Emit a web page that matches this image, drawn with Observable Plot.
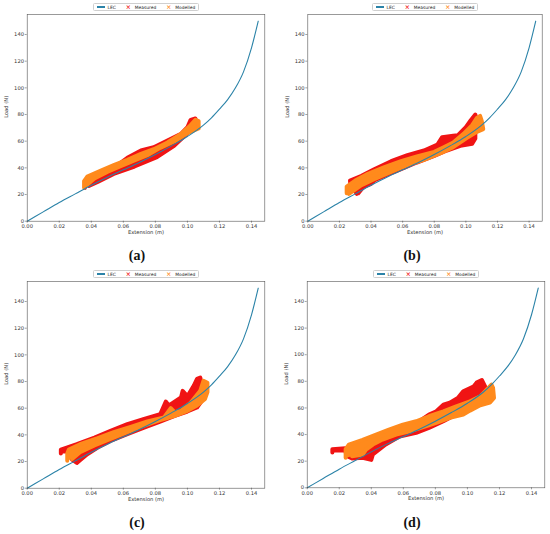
<!DOCTYPE html>
<html>
<head>
<meta charset="utf-8">
<script src="https://cdn.jsdelivr.net/npm/d3@7"></script>
<script src="https://cdn.jsdelivr.net/npm/@observablehq/plot@0.6"></script>
<style>
  html, body { margin: 0; padding: 0; background: #fff; }
  #fig { position: relative; width: 550px; height: 534px; overflow: hidden; font-family: "DejaVu Sans", sans-serif; }
  .panel { position: absolute; width: 275px; height: 267px; }
  .panel svg { position: absolute; left: 0; top: 0; }
  .legend { position: absolute; top: 3px; height: 8px; width: 106px; border: 0.6px solid #cfcfcf; border-radius: 1.5px;
            display: flex; align-items: center; font-size: 4.4px; color: #222; box-sizing: border-box; padding-left: 3px; background: #fff; }
  .legend .sw { display: inline-block; width: 8px; height: 1.1px; background: #2b83a8; margin-right: 3px; }
  .legend .mk { font-weight: bold; font-size: 6px; margin-right: 4px; line-height: 6px; }
  .legend .lab { margin-right: 10px; }
  .cap { position: absolute; top: 248px; width: 40px; text-align: center; font-family: "Liberation Serif", serif; font-weight: bold; font-size: 14px; color: #111; }
</style>
</head>
<body>
<div id="fig"></div>
<script>
// ---------- data ----------
const xTicks = [0, 0.02, 0.04, 0.06, 0.08, 0.10, 0.12, 0.14];
const yTicks = [0, 20, 40, 60, 80, 100, 120, 140];
const panelLabels = ["(a)", "(b)", "(c)", "(d)"];
const seriesNames = ["LEC", "Measured", "Modelled"];

// Load-extension curve (LEC)
const lecX = [0, 0.01, 0.02, 0.03, 0.04, 0.05, 0.06, 0.07, 0.08, 0.09, 0.10, 0.11, 0.115, 0.12, 0.125, 0.13, 0.135, 0.14, 0.1442];
const lecY = [0, 7, 14, 20.5, 27, 33, 38.5, 44, 50, 56.5, 63.5, 72, 77.5, 84, 91, 100, 112, 130, 150];

// Measured / modelled hysteresis loops (extension m, load N), traced outline
const measuredA = [[0.036,25],[0.037,30],[0.045,34],[0.054,40],[0.0625,47.5],[0.071,53],[0.079,55.5],[0.0875,60.5],[0.096,65.5],[0.1,70.5],[0.102,76],[0.105,77],
  [0.106,72.5],[0.1,66],[0.0917,56.5],[0.081,48],[0.067,41],[0.054,35.5],[0.044,29.5],[0.0385,26.5]];
const modelledA = [[0.0355,25],[0.0355,30],[0.0375,33.5],[0.046,38],[0.054,42],[0.0625,46],[0.071,50.5],[0.079,54],[0.0875,59],[0.096,65.5],[0.102,72],[0.105,76],[0.107,75],
  [0.107,69.5],[0.1,66],[0.092,60],[0.083,55],[0.075,49.5],[0.067,45.5],[0.058,41],[0.05,37],[0.042,32],[0.0365,26.5]];

const measuredB = [[0.031,20.5],[0.027,27],[0.0267,30.5],[0.034,34],[0.042,39],[0.0527,45],[0.063,49.5],[0.0735,53],[0.082,57.5],[0.085,63],[0.092,64],[0.095,64.5],[0.1,70.5],[0.103,75.5],[0.106,80],[0.107,76],
  [0.106,70],[0.106,62],[0.104,58],[0.0965,56.5],[0.088,53],[0.08,49],[0.069,44],[0.059,39],[0.0485,34],[0.042,30.5],[0.04,28],[0.035,25.5],[0.032,21]];
const modelledB = [[0.0246,21],[0.0246,26],[0.03,30.5],[0.038,35.5],[0.0485,40.5],[0.059,45],[0.069,48.5],[0.08,52],[0.086,55.5],[0.092,59],[0.0985,65.5],[0.104,72],[0.107,77.5],[0.109,79],[0.11,75.5],[0.111,69],
  [0.107,67],[0.1,62],[0.092,55.5],[0.084,51],[0.0735,46],[0.063,42],[0.0527,37],[0.042,31.5],[0.034,27],[0.029,23],[0.026,20.5]];

const measuredC = [[0.021,26],[0.021,29],[0.031,33],[0.042,38],[0.052,43],[0.0625,48],[0.073,52],[0.083,55.5],[0.0865,65],[0.0885,62],[0.096,68],[0.097,73],[0.1,69],[0.104,77],[0.106,82],[0.108,83],[0.109,78],[0.11,72],
  [0.109,65.5],[0.106,60.5],[0.1,57.5],[0.0917,54],[0.083,50],[0.073,45.5],[0.0625,40.5],[0.052,35.5],[0.044,30.5],[0.0375,25.5],[0.033,21],[0.031,19],[0.028,21.5],[0.026,26]];
const modelledC = [[0.025,20.5],[0.025,26],[0.026,29],[0.033,33],[0.044,37.5],[0.054,42],[0.0646,46],[0.075,50],[0.0854,53],[0.0896,60],[0.092,57],[0.096,58],[0.102,64],[0.108,73],[0.11,80.5],[0.1125,79],[0.1125,72],[0.111,67],
  [0.106,62],[0.1,58],[0.0917,54],[0.083,51],[0.073,47],[0.0625,42],[0.052,37],[0.042,32],[0.033,27],[0.028,22]];

const measuredD = [[0.0157,26.5],[0.0157,29],[0.026,30],[0.0325,31],[0.039,34],[0.047,37.5],[0.0555,41],[0.064,46],[0.07,50],[0.076,55],[0.0806,57.5],[0.085,62.5],[0.089,64],[0.094,67.5],[0.0974,72.5],[0.1037,76],[0.1057,79],[0.109,81],[0.114,69],
  [0.111,66],[0.108,64],[0.1016,60],[0.093,55],[0.085,50],[0.076,45],[0.068,41.25],[0.0576,38.5],[0.049,32.5],[0.041,25],[0.04,21],[0.0346,22.5],[0.028,22],[0.025,23.75],[0.024,26.5]];
const modelledD = [[0.024,22.5],[0.024,29],[0.026,32.5],[0.0346,36],[0.043,40],[0.051,43.75],[0.0597,47.5],[0.068,50],[0.076,53.75],[0.085,57.5],[0.093,61.25],[0.1016,65],[0.108,68.75],[0.112,73.75],[0.115,77.5],[0.116,75],[0.1166,67.5],[0.114,64],
  [0.108,62],[0.1016,58],[0.0974,55],[0.089,52.5],[0.0806,48.75],[0.072,45.5],[0.064,42.5],[0.0555,40],[0.047,36.25],[0.041,32.5],[0.0367,28.75],[0.0346,25],[0.028,23.75]];

const measuredAll = [measuredA, measuredB, measuredC, measuredD];
const modelledAll = [modelledA, modelledB, modelledC, modelledD];

// ---------- styling / layout ----------
const TEAL = "#2b83a8", RED = "#f01414", ORANGE = "#ff8a1c";
const layout = [
  {left: 0,   top: 0,   fl: 26.7, fr: 264.3, fb: 220.7},
  {left: 275, top: 0,   fl: 32.3, fr: 266.7, fb: 220.7},
  {left: 0,   top: 267, fl: 26.7, fr: 264.3, fb: 220.7},
  {left: 275, top: 267, fl: 31.7, fr: 269.3, fb: 220.3}
];
const lec = lecX.map((x, i) => ({x, y: lecY[i]}));
const fmt = d3.format(".2f");
const fig = document.getElementById("fig");

layout.forEach((L, i) => {
  const div = document.createElement("div");
  div.className = "panel";
  div.style.left = L.left + "px";
  div.style.top = L.top + "px";
  const H = 240;
  const svg = Plot.plot({
    width: 275, height: H,
    marginTop: 14, marginBottom: H - L.fb, marginLeft: L.fl, marginRight: 275 - L.fr,
    x: {domain: [0, 0.1483]},
    y: {domain: [0, 155]},
    style: {fontFamily: "DejaVu Sans", fontSize: "5.2px", color: "#333", background: "transparent", overflow: "visible"},
    marks: [
      Plot.line(measuredAll[i], {x: d => d[0], y: d => d[1], stroke: RED, fill: RED, strokeWidth: 4, strokeLinejoin: "round"}),
      Plot.line(modelledAll[i], {x: d => d[0], y: d => d[1], stroke: ORANGE, fill: ORANGE, strokeWidth: 4, strokeLinejoin: "round"}),
      Plot.line(lec, {x: "x", y: "y", stroke: TEAL, strokeWidth: 1.1, curve: "monotone-x"}),
      Plot.frame({stroke: "#555", strokeWidth: 0.6}),
      Plot.axisX({ticks: xTicks, tickFormat: fmt, tickSize: 2, tickPadding: 1.2, label: null, fontSize: 5.2, stroke: "#444", strokeWidth: 0.5, fill: "#333"}),
      Plot.axisY({ticks: yTicks, tickSize: 2, tickPadding: 1.2, label: null, fontSize: 5.2, stroke: "#444", strokeWidth: 0.5, fill: "#333"}),
      Plot.text(["Extension (m)"], {frameAnchor: "bottom", dy: 12.5, fontSize: 5.2, fill: "#333"}),
      Plot.text(["Load (N)"], {frameAnchor: "left", dx: -20.5, rotate: -90, fontSize: 5.2, fill: "#333"})
    ]
  });
  div.appendChild(svg);

  const leg = document.createElement("div");
  leg.className = "legend";
  leg.style.left = ((L.fl + L.fr) / 2 - 53) + "px";
  leg.innerHTML =
    `<span class="sw"></span><span class="lab">${seriesNames[0]}</span>` +
    `<span class="mk" style="color:${RED}">×</span><span class="lab">${seriesNames[1]}</span>` +
    `<span class="mk" style="color:${ORANGE}">×</span><span class="lab" style="margin-right:0">${seriesNames[2]}</span>`;
  div.appendChild(leg);

  const cap = document.createElement("div");
  cap.className = "cap";
  cap.style.left = (137 - 20) + "px";
  cap.textContent = panelLabels[i];
  div.appendChild(cap);

  fig.appendChild(div);
});
</script>
</body>
</html>
